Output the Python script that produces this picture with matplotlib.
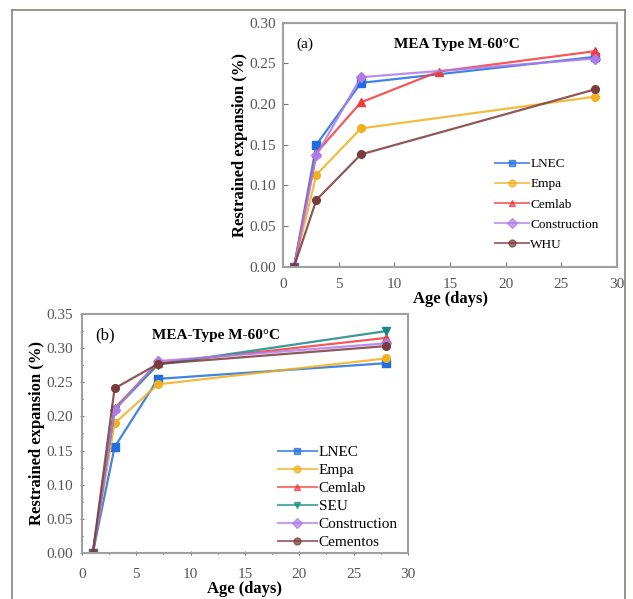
import matplotlib.pyplot as plt
from matplotlib.lines import Line2D
from matplotlib.ticker import MultipleLocator

plt.rcParams['font.family'] = ['Liberation Serif', 'DejaVu Serif']

# panel (a)
a_names = ['LNEC', 'Empa', 'Cemlab', 'Construction', 'WHU']
a_days = [[1, 3, 7, 28], [1, 3, 7, 28], [1, 3, 7, 14, 28], [1, 3, 7, 28], [1, 3, 7, 28]]
a_vals = [[0.0, 0.150, 0.226, 0.258],
          [0.0, 0.113, 0.170, 0.209],
          [0.0, 0.140, 0.202, 0.240, 0.265],
          [0.0, 0.137, 0.233, 0.256],
          [0.0, 0.082, 0.138, 0.218]]
a_colors = ['#1f6fe0', '#f0b020', '#f03c3c', '#b07ae8', '#7a3b3b']
a_markers = ['s', 'o', '^', 'D', 'o']

# panel (b)
b_names = ['LNEC', 'Empa', 'Cemlab', 'SEU', 'Construction', 'Cementos']
b_days = [1, 3, 7, 28]
b_vals = [[0.0, 0.155, 0.255, 0.278],
          [0.0, 0.190, 0.247, 0.285],
          [0.0, 0.212, 0.278, 0.315],
          [0.0, 0.210, 0.276, 0.325],
          [0.0, 0.209, 0.281, 0.307],
          [0.0, 0.241, 0.277, 0.303]]
b_colors = ['#1f6fe0', '#f0b020', '#f03c3c', '#168a80', '#b07ae8', '#7a3b3b']
b_markers = ['s', 'o', '^', 'v', 'D', 'o']

fig = plt.figure(figsize=(6.33, 5.99), dpi=100)

def style_axes(ax, ymax, xpad):
    for sp in ax.spines.values():
        sp.set_color('#a0a0a0')
        sp.set_linewidth(1.5)
    ax.set_xlim(0, 30)
    ax.set_ylim(0, ymax)
    ax.xaxis.set_major_locator(MultipleLocator(5))
    ax.yaxis.set_major_locator(MultipleLocator(0.05))
    ax.yaxis.set_major_formatter(plt.FormatStrFormatter('%.2f'))
    ax.tick_params(labelsize=11, labelcolor='#555555', color='#777777', direction='in')
    ax.tick_params(axis='x', pad=xpad)
    ax.tick_params(axis='y', pad=5)
    ax.set_xlabel('Age (days)', fontsize=12, fontweight='bold', labelpad=0)
    ax.set_ylabel('Restrained expansion (%)', fontsize=12, fontweight='bold', labelpad=1)

ax1 = fig.add_axes([0.447, 0.555, 0.528, 0.407])
for i in range(len(a_names)):
    ax1.plot(a_days[i], a_vals[i], '-', color=a_colors[i], alpha=0.85, lw=1.6)
    ax1.plot(a_days[i], a_vals[i], ls='none', marker=a_markers[i], color=a_colors[i], ms=5.5)
style_axes(ax1, 0.30, 8)
handles = [Line2D([], [], color=c, lw=1.5, alpha=0.7, marker=m, ms=5, markerfacecolor=c, markeredgecolor=c)
           for c, m in zip(a_colors, a_markers)]
ax1.legend(handles, a_names, loc='upper left', bbox_to_anchor=(0.635, 0.445), frameon=False,
           fontsize=9.5, handlelength=2.6, handletextpad=0.05, labelspacing=0.6,
           borderaxespad=0, borderpad=0)
ax1.text(0.04, 0.91, '(a)', transform=ax1.transAxes, fontsize=11, va='center')
ax1.text(0.52, 0.91, 'MEA Type M-60°C', transform=ax1.transAxes, fontsize=11,
         fontweight='bold', ha='center', va='center')

ax2 = fig.add_axes([0.1295, 0.0768, 0.515, 0.399])
for i in range(len(b_names)):
    ax2.plot(b_days, b_vals[i], '-', color=b_colors[i], alpha=0.85, lw=1.6)
    ax2.plot(b_days, b_vals[i], ls='none', marker=b_markers[i], color=b_colors[i], ms=5.5)
style_axes(ax2, 0.35, 9)
ax2.xaxis.set_minor_locator(MultipleLocator(2.5))
ax2.yaxis.set_minor_locator(MultipleLocator(0.025))
ax2.tick_params(which='both', direction='inout')
handles = [Line2D([], [], color=c, lw=1.5, alpha=0.7, marker=m, ms=5, markerfacecolor=c, markeredgecolor=c)
           for c, m in zip(b_colors, b_markers)]
ax2.legend(handles, b_names, loc='upper left', bbox_to_anchor=(0.6, 0.45), frameon=False,
           fontsize=11, handlelength=2.6, handletextpad=0.1, labelspacing=0.28,
           borderaxespad=0, borderpad=0)
ax2.text(0.04, 0.91, '(b)', transform=ax2.transAxes, fontsize=12, va='center')
ax2.text(0.41, 0.91, 'MEA-Type M-60°C', transform=ax2.transAxes, fontsize=11,
         fontweight='bold', ha='center', va='center')

# outer frame of the image
fx0, fx1, fy = 12 / 633, 625 / 633, 1 - 10 / 599
for xs, ys in [([fx0, fx0], [0, fy]), ([fx0, fx1], [fy, fy]), ([fx1, fx1], [fy, 0])]:
    fig.add_artist(Line2D(xs, ys, color='#8a807a', lw=1.2, transform=fig.transFigure))

fig.savefig('out.png', dpi=100)
